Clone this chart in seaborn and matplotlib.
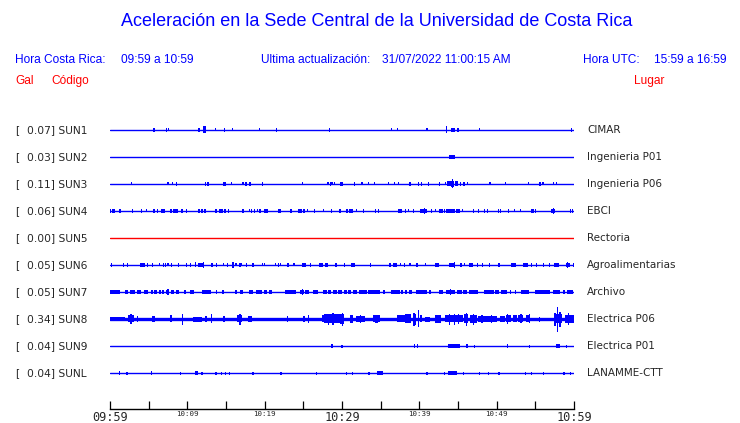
import numpy as np
import pandas as pd
import seaborn as sns
import matplotlib.pyplot as plt
import matplotlib.transforms as mtransforms

# Stations, peak acceleration (Gal) and location
codes = ["SUN1", "SUN2", "SUN3", "SUN4", "SUN5", "SUN6", "SUN7", "SUN8", "SUN9", "SUNL"]
peaks = [0.07, 0.03, 0.11, 0.06, 0.00, 0.05, 0.05, 0.34, 0.04, 0.04]
places = ["CIMAR", "Ingenieria P01", "Ingenieria P06", "EBCI", "Rectoria",
          "Agroalimentarias", "Archivo", "Electrica P06", "Electrica P01", "LANAMME-CTT"]

# Time axis (minutes after 09:59)
tick_minutes = [0, 5, 10, 15, 20, 25, 30, 35, 40, 45, 50, 55, 60]
tick_labels = ["09:59", "", "10:09", "", "10:19", "", "10:29", "", "10:39", "", "10:49", "", "10:59"]
big_labels = ["09:59", "10:29", "10:59"]

# Bursts: (minute, duration in minutes, half height in px)
sun1 = [(5.7, .3, 1.5), (7.3, .1, 1.5), (7.6, .1, 1), (11.5, .1, 1.5), (12.2, .3, 3), (13.6, .1, 1),
        (14.8, .1, 1.5), (15.8, .1, 1), (19.3, .1, 1), (21.5, .1, 1.5), (28.4, .1, 1.5), (36.4, .1, 1),
        (37.2, .1, 1), (41.0, .1, 1), (43.5, .1, 3), (44.4, .5, 1.5), (45.0, .1, 1.5), (47.8, .1, 1),
        (59.7, .1, 1.5)]
sun2 = [(44.25, .8, 1.5)]
sun3 = [(2.8, .1, 1), (7.5, .1, 1), (8.1, .1, 1), (8.6, .1, 1.5), (12.3, .1, 1.5), (12.7, .3, 1.5),
        (14.85, .4, 1.5), (15.7, .1, 1), (17.2, .1, 1), (17.6, .1, 1.5), (18.1, .1, 1.5), (19.7, .2, 1.5),
        (24.9, .1, 1), (28.2, .1, 1), (28.5, .1, 1.5), (28.7, .1, 1), (29.0, .1, 1), (29.9, .4, 1.5),
        (31.6, .1, 1.5), (32.6, .1, 1), (33.4, .1, 1), (34.2, .1, 1), (36.0, .1, 1), (36.8, .1, 1),
        (37.3, .1, 1), (38.8, .1, 1.5), (39.9, .1, 1.5), (40.3, .1, 1.5), (41.2, .1, 1.5), (42.6, .1, 1.5),
        (43.4, .1, 1), (43.9, .6, 2), (44.3, .3, 2.5), (44.3, .1, 4), (44.8, .4, 2), (45.3, .1, 1.5),
        (45.8, .3, 1.5), (46.2, .1, 1), (49.1, .3, 1), (51.1, .1, 1), (54.1, .1, 1), (55.6, .3, 1.5),
        (56.0, .1, 1), (57.3, .1, 1), (57.7, .1, 1)]
sun4 = [(0.1, .1, 1.5), (0.5, .4, 1.5), (1.3, .2, 1.5), (2.9, .1, 1.5), (4.1, .1, 1.5), (4.7, .1, 1),
        (5.7, .3, 1.5), (6.1, .1, 1.5), (6.85, .55, 1.5), (7.9, .1, 1.5), (8.5, .6, 1.5), (9.35, .25, 1.5),
        (9.9, .1, 1.5), (11.5, .1, 1.5), (11.9, .1, 1.5), (12.3, .2, 1.5), (13.7, .1, 1.5), (14.35, .45, 1.5),
        (14.9, .25, 1.5), (15.35, .1, 1.5), (17.2, .1, 1.5), (18.0, .1, 1), (18.3, .2, 1.5), (18.7, .1, 1.5),
        (19.1, .1, 1), (19.4, .1, 1.5), (20.2, .5, 1.5), (21.9, .35, 1.5), (23.4, .1, 1.5), (24.6, .5, 1.5),
        (25.1, .1, 1.5), (25.5, .1, 1), (26.4, .1, 1.5), (27.6, .1, 1), (28.6, .1, 1.5), (29.8, .25, 1.5),
        (30.6, .25, 1.5), (31.15, .45, 1.5), (31.9, .1, 1), (32.75, .1, 1.5), (34.3, .1, 1.5), (34.7, .1, 1.5),
        (37.5, .4, 1.5), (38.2, .1, 1.5), (38.6, .1, 1), (39.2, .1, 1.5), (40.55, .95, 1.5), (40.7, .1, 2.5),
        (41.6, .1, 1.5), (42.1, .1, 1), (42.85, .5, 1.5), (43.3, .1, 1.5), (44.05, 1.1, 1.5), (45.0, .5, 1.5),
        (45.55, .1, 1), (47.0, .25, 1.5), (47.7, .1, 1.5), (48.4, .1, 1.5), (48.8, .1, 1.5), (50.2, .1, 1.5),
        (50.5, .1, 1.5), (51.5, .1, 1.5), (52.3, .1, 1), (53.1, .1, 1), (54.6, .35, 1.5), (55.0, .1, 1.5),
        (57.3, .45, 1.5), (57.3, .15, 2.5), (59.5, .1, 1.5), (59.8, .1, 1.5)]
sun5 = []
sun6 = [(0.2, .1, 1.5), (1.7, .15, 1.5), (2.3, .1, 1.5), (4.2, .65, 1.5), (4.8, .1, 1.5), (5.5, .1, 1.5),
        (6.4, .1, 1), (6.9, .1, 1.5), (7.2, .1, 1.5), (7.5, .1, 1), (8.0, .15, 1.5), (8.9, .15, 1.5),
        (9.9, .2, 1.5), (10.4, .2, 1.5), (11.1, .1, 2), (11.8, .8, 1.5), (12.1, .1, 2.5), (13.2, .15, 1.5),
        (13.8, .2, 1.5), (14.7, .1, 1), (15.2, .1, 1.5), (15.9, .1, 2.5), (16.3, .1, 1), (16.8, .1, 1.5),
        (17.0, .1, 1), (17.7, .15, 1.5), (18.5, .1, 1.5), (19.7, .1, 1), (20.0, .1, 1), (21.4, .1, 1),
        (21.8, .15, 1.5), (22.0, .1, 1), (23.0, .2, 1.5), (23.8, .1, 1), (25.1, .55, 1.5), (25.9, .1, 1.5),
        (27.3, .5, 1.5), (28.0, .35, 1.5), (29.2, .2, 1.5), (30.3, .1, 1.5), (31.4, .5, 1.5), (33.7, .2, 1.5),
        (36.2, .1, 1.5), (36.9, .5, 1.5), (37.6, .1, 1), (38.1, .1, 1.5), (38.8, .1, 1), (39.7, .2, 1.5),
        (40.8, .1, 1), (42.3, .45, 1.5), (44.2, .8, 1.5), (44.5, .1, 2.5), (45.4, .1, 1.5), (45.8, .1, 1),
        (46.65, .45, 1.5), (47.5, .1, 1.5), (48.2, .1, 1.5), (49.1, .1, 1.5), (50.3, .1, 1.5), (52.15, .7, 1.5),
        (53.7, .7, 1.5), (54.5, .1, 1.5), (55.2, .1, 1.5), (56.1, .1, 1.5), (56.8, .1, 1.5), (57.7, .7, 1.5),
        (59.2, .5, 1.5), (59.2, .1, 2.5), (59.9, .1, 1.5)]
sun7 = [(0.65, 1.3, 1.5), (2.1, .35, 1.5), (2.9, .55, 1.5), (3.8, .5, 1.5), (4.7, .55, 1.5), (5.4, .2, 1.5),
        (5.9, .45, 1.5), (6.5, .3, 1.5), (6.9, .25, 1.5), (7.3, .2, 1.5), (7.5, .1, 2.5), (8.1, .4, 1.5),
        (8.7, .45, 1.5), (9.7, .25, 1.5), (10.6, .45, 1.5), (12.5, 1.15, 1.5), (13.8, .1, 1.5), (14.65, .25, 1.5),
        (16.3, .35, 1.5), (17.0, .45, 1.5), (18.2, .55, 1.5), (19.3, .8, 1.5), (20.1, .4, 1.5), (20.75, .3, 1.5),
        (23.3, 1.4, 1.5), (23.7, .1, 1.5), (24.0, .1, 1.5), (24.85, .55, 1.5), (24.9, .1, 2.5), (25.5, .45, 1.5),
        (26.6, .65, 1.5), (27.8, .45, 1.5), (28.4, .35, 1.5), (29.1, .5, 1.5), (29.75, .45, 1.5), (30.45, .3, 1.5),
        (31.0, .45, 1.5), (31.7, .5, 1.5), (32.7, .95, 1.5), (34.15, 1.5, 1.5), (35.4, .3, 1.5), (36.95, 1.1, 1.5),
        (37.8, .3, 1.5), (38.25, .2, 1.5), (38.9, .35, 1.5), (40.25, 1.4, 1.5), (41.4, .2, 1.5), (42.85, .5, 1.5),
        (44.0, 1.15, 1.5), (44.0, .1, 2.5), (45.15, .65, 1.5), (45.85, .5, 1.5), (47.05, 1.15, 1.5), (49.0, 1.2, 1.5),
        (50.05, .55, 1.5), (50.9, .8, 1.5), (51.8, .2, 1.5), (52.45, .2, 1.5), (53.7, 1.0, 1.5), (55.9, 1.95, 1.5),
        (57.75, .85, 1.5), (58.7, .35, 1.5), (59.5, .85, 1.5)]
sun8 = [(1.0, 2.0, 1.5), (2.75, .8, 3), (2.75, .3, 4.5), (3.55, .2, 2.5), (5.6, .4, 2.5), (7.9, .35, 3),
        (9.35, .1, 5), (11.3, 1.1, 2), (12.4, .2, 2.5), (13.15, .1, 4), (14.75, .1, 2.5), (16.75, .7, 3),
        (16.8, .15, 5), (18.1, .45, 2.5), (23.0, .1, 2.5), (25.1, .2, 2.5), (25.7, .1, 3.5), (27.5, .3, 3),
        (28.9, 2.4, 4), (28.3, .15, 5), (28.85, .15, 5.5), (30.05, .2, 6), (30.0, .5, 4.5), (31.25, .45, 3.5),
        (32.4, 1.15, 2.5), (32.4, .1, 3.5), (34.5, .95, 3), (34.5, .4, 3.5), (37.6, 1.1, 3), (38.55, .85, 4),
        (39.3, .1, 6), (39.55, .1, 5), (39.85, .1, 8), (40.2, .2, 3), (41.05, .65, 2), (42.4, .8, 3.5),
        (44.5, 2.4, 3), (43.9, .1, 5), (44.5, .1, 5), (45.05, .1, 4.5), (46.05, .55, 4), (46.1, .1, 6),
        (47.0, .85, 3.5), (47.0, .1, 5), (48.8, 2.4, 2.5), (48.1, .1, 3.5), (49.35, .1, 3.5), (50.75, .65, 2.5),
        (51.5, .65, 3), (51.4, .1, 4.5), (52.4, .45, 3), (53.1, .65, 3), (53.15, .1, 4), (54.1, .5, 3),
        (54.2, .1, 4), (55.5, .1, 2), (57.9, 1.1, 4), (57.55, .1, 6), (57.85, .15, 12), (58.2, .1, 7),
        (59.4, 1.1, 3.5), (59.3, .1, 5.5)]
sun9 = [(28.7, .1, 1.5), (30.0, .1, 1), (30.1, .1, 1), (39.4, .1, 1.5), (39.8, .1, 1.5), (44.5, 1.5, 1.5),
        (46.2, .3, 1.5), (47.1, .1, 1), (51.4, .15, 1.5), (54.2, .1, 1), (57.9, .5, 1.5), (59.0, .1, 1)]
sunl = [(1.2, .1, 1.5), (2.2, .1, 1), (5.4, .15, 1.5), (9.1, .1, 1), (11.2, .35, 1.5), (11.9, .1, 1),
        (13.7, .1, 1), (14.4, .1, 1), (14.9, .1, 1), (15.5, .1, 1), (18.5, .1, 1), (22.1, .1, 1),
        (26.7, .1, 1), (30.6, .1, 1), (31.4, .1, 1), (33.5, .15, 1), (34.9, .7, 1.5), (41.0, .1, 1),
        (43.3, .1, 1), (44.3, 1.15, 1.5), (45.7, .1, 1), (47.8, .1, 1), (48.9, .1, 1), (50.3, .1, 1),
        (53.7, .1, 1), (54.5, .1, 1), (56.1, .1, 1), (58.7, .1, 1), (59.5, .1, 1)]
bursts = [sun1, sun2, sun3, sun4, sun5, sun6, sun7, sun8, sun9, sunl]

BLUE = "#0000ff"
RED = "#ff0000"
W, H = 740, 423
ROW_PX = 27  # vertical spacing between traces in pixels
PX = 1 / ROW_PX
EDGE_PX = 0.5  # spikes start at the edge of the drawn baseline

sns.set_style("white")
plt.rcParams["font.family"] = ["DejaVu Sans"]

fig = plt.figure(figsize=(W / 100, H / 100), dpi=100)
ax = fig.add_axes([110 / W, (H - 409) / H, 464 / W, (409 - 100) / H])

for i, code in enumerate(codes):
    color = RED if peaks[i] == 0 else BLUE
    lw = 2.4 if code == "SUN8" else 1.0
    base = pd.DataFrame({"t": [0, 60], "row": [i, i]})
    sns.lineplot(data=base, x="t", y="row", color=color, linewidth=lw, ax=ax)

    # bursts as bars centred on the baseline
    if bursts[i]:
        b = pd.DataFrame(bursts[i], columns=["t", "dur", "amp"])
        half = (b["amp"] + EDGE_PX) * PX
        ax.bar(b["t"], 2 * half, width=np.maximum(b["dur"], 0.16),
               bottom=i - half, color=color, linewidth=0)

ax.set_xlim(0, 60)
ax.set_ylim((409 - 130) / ROW_PX, (100 - 130) / ROW_PX)
ax.set_yticks([])
ax.set_xlabel("")
ax.set_ylabel("")
sns.despine(ax=ax, left=True)
ax.spines["bottom"].set_color("black")
ax.spines["bottom"].set_linewidth(1.0)
ax.set_xticks(tick_minutes, tick_labels)
ax.tick_params(axis="x", direction="in", length=5.8, width=0.9, color="black", pad=1.5, bottom=True)
for lab in ax.get_xticklabels():
    lab.set_family("DejaVu Sans Mono")
    lab.set_fontsize(8.6 if lab.get_text() in big_labels else 5.4)

# Station labels on both sides
tr = mtransforms.blended_transform_factory(fig.transFigure, ax.transData)
for i, code in enumerate(codes):
    ax.text(15 / W, i, "[", transform=tr, ha="left", va="center", fontsize=7.7)
    ax.text(27 / W, i, f"{peaks[i]:.2f}] {code}", transform=tr, ha="left", va="center", fontsize=7.7)
    ax.text(587 / W, i, places[i], transform=tr, ha="left", va="center", fontsize=7.5)

# Header
hdr = ["Liberation Sans", "DejaVu Sans"]
fs = 8.6
fig.text(377 / W, 1 - 22 / H, "Aceleración en la Sede Central de la Universidad de Costa Rica",
         ha="center", va="center", color=BLUE, fontsize=13, family=hdr)
fig.text(15 / W, 1 - 60 / H, "Hora Costa Rica:", ha="left", va="center", color=BLUE, fontsize=fs, family=hdr)
fig.text(121 / W, 1 - 60 / H, "09:59 a 10:59", ha="left", va="center", color=BLUE, fontsize=fs, family=hdr)
fig.text(261 / W, 1 - 60 / H, "Ultima actualización:", ha="left", va="center", color=BLUE, fontsize=fs, family=hdr)
fig.text(382 / W, 1 - 60 / H, "31/07/2022 11:00:15 AM", ha="left", va="center", color=BLUE, fontsize=fs, family=hdr)
fig.text(583 / W, 1 - 60 / H, "Hora UTC:", ha="left", va="center", color=BLUE, fontsize=fs, family=hdr)
fig.text(654 / W, 1 - 60 / H, "15:59 a 16:59", ha="left", va="center", color=BLUE, fontsize=fs, family=hdr)
fig.text(15 / W, 1 - 81 / H, "Gal", ha="left", va="center", color=RED, fontsize=fs, family=hdr)
fig.text(51 / W, 1 - 81 / H, "Código", ha="left", va="center", color=RED, fontsize=fs, family=hdr)
fig.text(634 / W, 1 - 81 / H, "Lugar", ha="left", va="center", color=RED, fontsize=fs, family=hdr)

fig.savefig("out.png", dpi=100)
